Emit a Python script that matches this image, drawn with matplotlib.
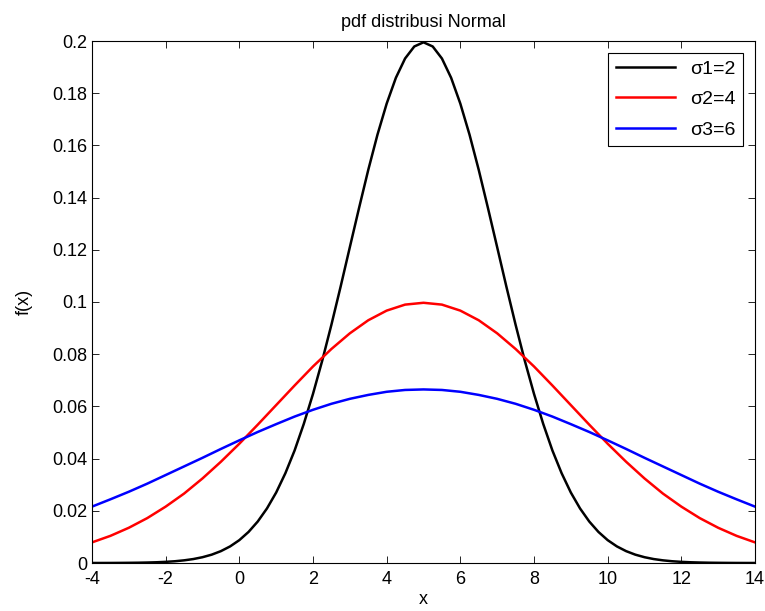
import numpy as np
import matplotlib.pyplot as plt

plt.rcParams['font.family'] = ['Liberation Sans', 'DejaVu Sans']
plt.rcParams['axes.unicode_minus'] = False

# kurva sigma=2 dibaca tiap 0.25, kurva lain tiap 0.5 (mu = 5)
x1 = np.arange(-4, 14.001, 0.25)
x = np.arange(-4, 14.001, 0.5)

f1 = [0.00001, 0.00001, 0.00002, 0.00004, 0.00007, 0.00011, 0.00018, 0.00028, 0.00044,
      0.00067, 0.00102, 0.00151, 0.00222, 0.00320, 0.00455, 0.00636, 0.00876, 0.0119,
      0.0159, 0.0209, 0.0270, 0.0344, 0.0431, 0.0533, 0.0648, 0.0775, 0.0913, 0.1059,
      0.1210, 0.1360, 0.1506, 0.1641, 0.1760, 0.1859, 0.1933, 0.1979,
      0.1995,
      0.1979, 0.1933, 0.1859, 0.1760, 0.1641, 0.1506, 0.1360, 0.1210,
      0.1059, 0.0913, 0.0775, 0.0648, 0.0533, 0.0431, 0.0344, 0.0270, 0.0209, 0.0159,
      0.0119, 0.00876, 0.00636, 0.00455, 0.00320, 0.00222, 0.00151, 0.00102, 0.00067,
      0.00044, 0.00028, 0.00018, 0.00011, 0.00007, 0.00004, 0.00002, 0.00001, 0.00001]
f2 = [0.0079, 0.0104, 0.0135, 0.0172, 0.0216, 0.0266, 0.0324, 0.0388, 0.0457,
      0.0530, 0.0605, 0.0680, 0.0753, 0.0820, 0.0880, 0.0930, 0.0967, 0.0990,
      0.0997,
      0.0990, 0.0967, 0.0930, 0.0880, 0.0820, 0.0753, 0.0680, 0.0605, 0.0530,
      0.0457, 0.0388, 0.0324, 0.0266, 0.0216, 0.0172, 0.0135, 0.0104, 0.0079]
f3 = [0.0216, 0.0244, 0.0273, 0.0304, 0.0337, 0.0370, 0.0403, 0.0437, 0.0470,
      0.0502, 0.0532, 0.0561, 0.0587, 0.0610, 0.0629, 0.0644, 0.0656, 0.0663,
      0.0665,
      0.0663, 0.0656, 0.0644, 0.0629, 0.0610, 0.0587, 0.0561, 0.0532, 0.0502,
      0.0470, 0.0437, 0.0403, 0.0370, 0.0337, 0.0304, 0.0273, 0.0244, 0.0216]

fig = plt.figure(figsize=(7.65, 6.11), dpi=100)
ax = fig.add_axes([92/765, 1 - 563/611, (755 - 92)/765, (563 - 41)/611])

ax.plot(x1, f1, color='black', lw=1.8, label='σ1=2')
ax.plot(x, f2, color='red', lw=1.8, label='σ2=4')
ax.plot(x, f3, color='blue', lw=1.8, label='σ3=6')

ax.set_xlim(-4, 14)
ax.set_ylim(0, 0.2)
ax.set_xticks(range(-4, 15, 2))
ax.set_yticks(np.arange(0, 0.201, 0.02))
ax.set_yticklabels(['0', '0.02', '0.04', '0.06', '0.08', '0.1', '0.12', '0.14', '0.16', '0.18', '0.2'])
ax.tick_params(direction='in', top=True, right=True, labelsize=13, length=5, width=0.6)
ax.tick_params(axis='x', pad=6)
for s in ax.spines.values():
    s.set_linewidth(0.8)

ax.set_title('pdf distribusi Normal', fontsize=13, pad=10)
ax.set_xlabel('x', fontsize=13, labelpad=2)
ax.set_ylabel('f(x)', fontsize=13, labelpad=14)

leg = ax.legend(loc='upper right', fontsize=14, fancybox=False, framealpha=1,
                edgecolor='black', handlelength=3.0, borderaxespad=0.6,
                labelspacing=0.65)
leg.get_frame().set_linewidth(0.8)

plt.savefig('out.png', dpi=100)
